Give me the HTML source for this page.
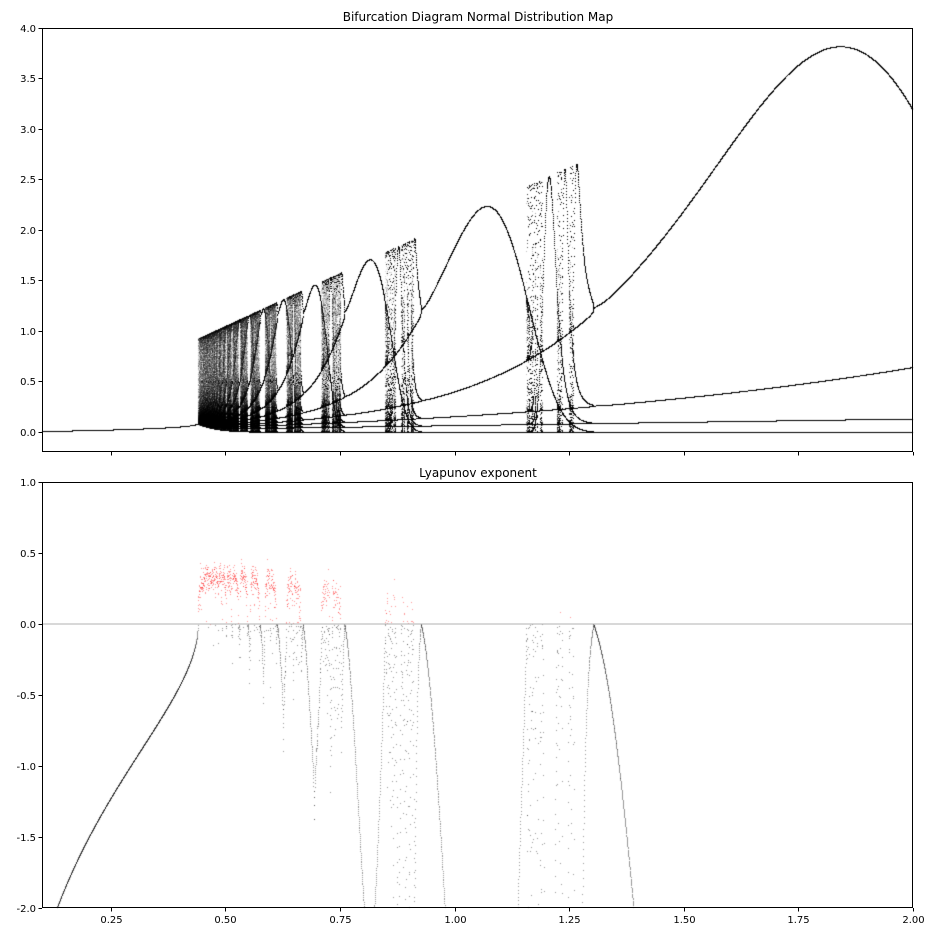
<!DOCTYPE html>
<html><head><meta charset="utf-8">
<style>
html,body{margin:0;padding:0;background:#fff;}
#wrap{position:relative;width:936px;height:936px;overflow:hidden;font-family:"DejaVu Sans","Liberation Sans",sans-serif;}
canvas{position:absolute;left:0;top:0;}
svg{position:absolute;left:0;top:0;}
</style></head>
<body>
<div id="wrap">
<canvas id="cv" width="936" height="936"></canvas>
<svg id="sv" width="936" height="936"></svg>
</div>
<script>
// map parameters: x' = r * N(x; mu, sigma)
const mapParams = [0.5, 0.19];           // mu, sigma
const initialX = [0.01];
const rRange = [0.1, 2.0];
const topYRange = [-0.2, 4.0];
const botYRange = [-2.0, 1.0];
const topYTicks = ["0.0","0.5","1.0","1.5","2.0","2.5","3.0","3.5","4.0"];
const botYTicks = ["-2.0","-1.5","-1.0","-0.5","0.0","0.5","1.0"];
const xTicks = ["0.25","0.50","0.75","1.00","1.25","1.50","1.75","2.00"];

const L=42,R=913, T1=28,B1=452, T2=482,B2=908;
const xs = v => L + (v-rRange[0])/(rRange[1]-rRange[0])*(R-L);
const y1 = v => B1 - (v-topYRange[0])/(topYRange[1]-topYRange[0])*(B1-T1);
const y2 = v => B2 - (v-botYRange[0])/(botYRange[1]-botYRange[0])*(B2-T2);

const mu=mapParams[0], sg=mapParams[1];
const norm = 1/(sg*Math.sqrt(2*Math.PI));
function f(r,x){return r*norm*Math.exp(-(x-mu)*(x-mu)/(2*sg*sg));}

const cv=document.getElementById('cv'), ctx=cv.getContext('2d');
const W=936,H=936;
const cntK=new Float32Array(W*H), cntR=new Float32Array(W*H);
const NR=8000, TR=600, NP=300;
for(let i=0;i<NR;i++){
  const r=rRange[0]+(rRange[1]-rRange[0])*i/(NR-1);
  let x=initialX[0];
  for(let k=0;k<TR;k++) x=f(r,x);
  let lsum=0;
  for(let k=0;k<NP;k++){
    x=f(r,x);
    const d=-x*(x-mu)/(sg*sg);
    lsum+=Math.log(Math.abs(d)+1e-300);
    const px=Math.round(xs(r)), py=Math.round(y1(x));
    if(py>=T1&&py<B1&&px>=L&&px<R) cntK[py*W+px]+=0.12;
  }
  const lam=lsum/NP;
  const px=Math.round(xs(r)), py=Math.round(y2(lam));
  if(py>=T2&&py<B2&&px>=L&&px<R){
    if(lam>0) cntR[py*W+px]+=0.45; else cntK[py*W+px]+=0.45;
  }
}
const img=ctx.createImageData(W,H);
for(let p=0;p<W*H;p++){
  const ak=1-Math.exp(-cntK[p]*1.15), ar=1-Math.exp(-cntR[p]*1.15);
  let rr=255,gg=255,bb=255;
  gg=gg*(1-ar); bb=bb*(1-ar);
  rr*=(1-ak); gg*=(1-ak); bb*=(1-ak);
  img.data[p*4]=rr;img.data[p*4+1]=gg;img.data[p*4+2]=bb;img.data[p*4+3]=255;
}
ctx.putImageData(img,0,0);

const NS="http://www.w3.org/2000/svg";
const sv=document.getElementById('sv');
function el(tag,attrs,name,text){
  const e=document.createElementNS(NS,tag);
  for(const k in attrs) e.setAttribute(k,attrs[k]);
  
  
  if(text!==undefined) e.textContent=text;
  sv.appendChild(e); return e;
}
el('line',{x1:L,x2:R,y1:y2(0),y2:y2(0),stroke:'#b0b0b0','stroke-width':1},'zero-line');
el('rect',{x:L+0.5,y:T1+0.5,width:R-L-1,height:B1-T1-1,fill:'none',stroke:'#000','stroke-width':1},'top-axes-frame');
el('rect',{x:L+0.5,y:T2+0.5,width:R-L-1,height:B2-T2-1,fill:'none',stroke:'#000','stroke-width':1},'bottom-axes-frame');
el('text',{x:478,y:21,'text-anchor':'middle','font-size':12},'top-title','Bifurcation Diagram Normal Distribution Map');
el('text',{x:478,y:477,'text-anchor':'middle','font-size':12},'bottom-title','Lyapunov exponent');
topYTicks.forEach(t=>{
  const y=Math.round(y1(parseFloat(t)))+0.5;
  el('line',{x1:L-3.5,x2:L,y1:y,y2:y,stroke:'#000'},'top-y-tick');
  el('text',{x:L-6,y:y+3.5,'text-anchor':'end','font-size':10},'top-y-tick-label',t);
});
botYTicks.forEach(t=>{
  const y=Math.round(y2(parseFloat(t)))+0.5;
  el('line',{x1:L-3.5,x2:L,y1:y,y2:y,stroke:'#000'},'bottom-y-tick');
  el('text',{x:L-6,y:y+3.5,'text-anchor':'end','font-size':10},'bottom-y-tick-label',t);
});
xTicks.forEach(t=>{
  const x=Math.round(xs(parseFloat(t)))+0.5;
  el('line',{x1:x,x2:x,y1:B1,y2:B1+3.5,stroke:'#000'},'top-x-tick');
  el('line',{x1:x,x2:x,y1:B2,y2:B2+3.5,stroke:'#000'},'bottom-x-tick');
  el('text',{x:x,y:B2+15,'text-anchor':'middle','font-size':10},'bottom-x-tick-label',t);
});
</script>
</body></html>
